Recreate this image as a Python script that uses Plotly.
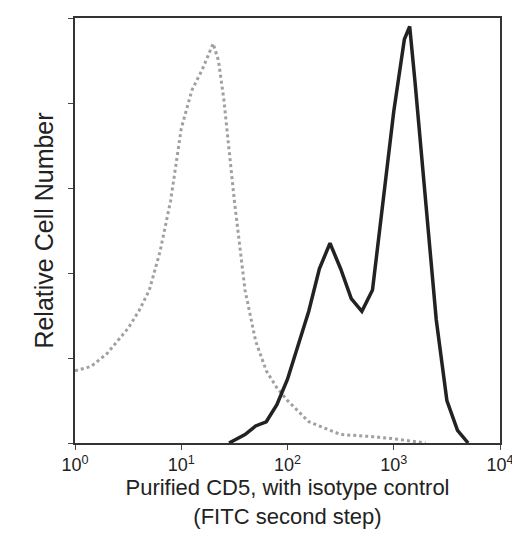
import plotly.graph_objects as go

# log10 of fluorescence and relative counts (0-100)
iso_x = [0.0, 0.15, 0.3, 0.4, 0.5, 0.6, 0.7, 0.8, 0.9, 1.0, 1.1, 1.2, 1.3, 1.35, 1.4, 1.5, 1.6, 1.7,
         1.8, 1.9, 2.0, 2.2, 2.5, 2.8, 3.0, 3.3]
iso_y = [17, 18, 21, 24, 27, 31, 36, 45, 57, 74, 83, 88, 94, 90, 81, 57, 36, 24,
         17, 13, 10, 5, 2, 1.5, 1, 0]

cd5_x = [1.45, 1.6, 1.7, 1.8, 1.9, 2.0, 2.1, 2.2, 2.3, 2.4, 2.45, 2.5, 2.6, 2.7, 2.8, 2.9, 3.0,
         3.1, 3.15, 3.2, 3.3, 3.4, 3.5, 3.6, 3.7]
cd5_y = [0, 2, 4, 5, 9, 15, 23, 31, 41, 47, 44, 41, 34, 31, 36, 57, 78,
         95, 98, 85, 57, 29, 10, 3, 0]

tick_vals = [1, 10, 100, 1000, 10000]
tick_text = ["10<sup>0</sup>", "10<sup>1</sup>", "10<sup>2</sup>", "10<sup>3</sup>", "10<sup>4</sup>"]

fig = go.Figure()
fig.add_trace(go.Scatter(x=[10 ** v for v in iso_x], y=iso_y, mode="lines",
                         line=dict(color="#a0a0a0", width=3, dash="dot")))
fig.add_trace(go.Scatter(x=[10 ** v for v in cd5_x], y=cd5_y, mode="lines",
                         line=dict(color="#222222", width=3.5)))

fig.update_layout(
    width=520, height=538, showlegend=False,
    plot_bgcolor="white", paper_bgcolor="white",
    margin=dict(l=67, r=28, t=10, b=103),
    font=dict(family="Liberation Sans, Arial", size=18, color="#222"),
)
fig.update_xaxes(type="log", range=[0, 4], tickvals=tick_vals, ticktext=tick_text,
                 ticks="outside", ticklen=5, showgrid=False, showline=True, mirror=True,
                 linecolor="#333", linewidth=1.5, automargin=False,
                 title=dict(text="Purified CD5, with isotype control<br>(FITC second step)",
                            font=dict(size=22), standoff=2))
fig.update_yaxes(range=[0, 100], tickvals=[0, 20, 40, 60, 80, 100], showticklabels=False,
                 ticks="outside", ticklen=5, showgrid=False, showline=True, mirror=True,
                 linecolor="#333", linewidth=1.5, zeroline=False, automargin=False,
                 title=dict(text="Relative Cell Number", font=dict(size=25), standoff=8))

fig.write_html("out.html")
